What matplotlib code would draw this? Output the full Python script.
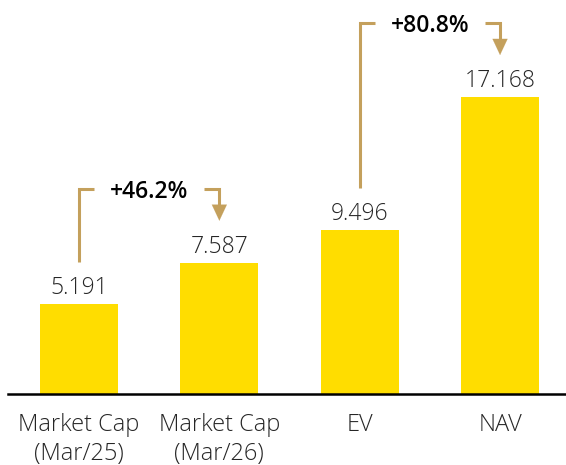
import matplotlib.pyplot as plt

categories = ['Market Cap\n(Mar/25)', 'Market Cap\n(Mar/26)', 'EV', 'NAV']
values = [5.191, 7.587, 9.496, 17.168]
# (from bar, to bar, label)
growth = [(0, 1, '+46.2%'), (2, 3, '+80.8%')]

bar_color = '#FFDD00'
arrow_color = '#C4A05C'
text_color = '#262626'

plt.rcParams['font.family'] = ['Open Sans', 'DejaVu Sans']

fig = plt.figure(figsize=(5.66, 4.65), dpi=100)
ax = fig.add_axes([8 / 566, 71 / 465, 558 / 566, 394 / 465])

x = range(len(values))
ax.bar(x, values, width=0.556, color=bar_color, zorder=2)
ax.set_xlim(-0.506, 3.470)
ax.set_ylim(0, 22.78)

px = 22.78 / 394  # one pixel in data units (vertical)
for i, v in enumerate(values):
    ax.text(i, v + 4 * px, f'{v:.3f}', ha='center', va='bottom',
            fontsize=16.5, fontweight='light', color=text_color)

ax.set_xticks(list(x))
ax.set_xticklabels(categories, fontsize=17, fontweight='light', color=text_color,
                   linespacing=1.25)
ax.tick_params(axis='x', length=0, pad=14)
ax.set_yticks([])
for side in ['top', 'left', 'right']:
    ax.spines[side].set_visible(False)
ax.spines['bottom'].set_linewidth(1.8)
ax.spines['bottom'].set_color('black')

hx = 15 / 140.33  # short horizontal leg of the bracket
for a, b, label in growth:
    start = values[a] + 42 * px
    top = max(values[a], values[b]) + 74 * px
    tip = values[b] + 42 * px
    mid = (a + b) / 2
    ax.plot([a, a, a + hx], [start, top, top], color=arrow_color, lw=2.2,
            solid_joinstyle='miter', solid_capstyle='butt')
    ax.plot([b - hx, b, b], [top, top, tip + 14 * px], color=arrow_color, lw=2.2,
            solid_joinstyle='miter', solid_capstyle='butt')
    ax.annotate('', xy=(b, tip), xytext=(b, tip + 16 * px),
                arrowprops=dict(arrowstyle='-|>,head_length=11.5,head_width=5.4',
                                mutation_scale=1, color=arrow_color, lw=0.1,
                                shrinkA=0, shrinkB=0))
    ax.text(mid, top - 3 * px, label, ha='center', va='center', fontsize=16.5,
            fontweight='semibold', color='black')

fig.savefig('out.png', dpi=100)
